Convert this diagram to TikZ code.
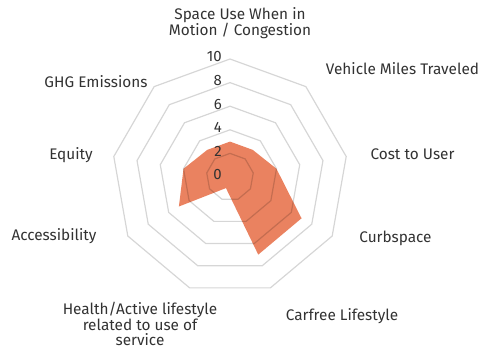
\documentclass[tikz,border=0pt]{standalone}
\usepackage{fontspec}
\setmainfont{Fira Sans}
\definecolor{fillorange}{RGB}{234,130,96}
\definecolor{ringgray}{RGB}{214,214,214}
\definecolor{labelgray}{RGB}{50,50,50}
\tikzset{
  ring/.style={draw=ringgray, line width=1.2bp},
  axislabel/.style={text=labelgray, font=\fontsize{15.4}{14.8}\selectfont, align=center, inner sep=0pt},
  ticklabel/.style={text=labelgray, font=\fontsize{15}{15}\selectfont, anchor=east, inner sep=0pt},
}
\begin{document}
\begin{tikzpicture}[x=1bp,y=1bp]
  \useasboundingbox (-230,-172) rectangle (254,177);
  % rings
  \foreach \r in {2,4,...,10}
    \draw[ring] (90:\r*11.8) \foreach \k in {1,...,8} { -- (90-40*\k:\r*11.8)} -- cycle;
  % scores
  \begin{scope}[blend mode=multiply]
    \fill[fillorange] (90:3*11.8) -- (50:3*11.8) -- (10:4*11.8) -- (-30:7*11.8)
      -- (-70:7*11.8) -- (-110:1*11.8) -- (-150:5*11.8) -- (170:4*11.8)
      -- (130:3*11.8) -- cycle;
  \end{scope}
  % scale
  \foreach \r in {0,2,...,10}
    \node[ticklabel] (t\r) at (-8, \r*11.8+2) {\r};
  % axes
  \node[axislabel] (space) at (10, 154) {Space Use When in\\Motion / Congestion};
  \node[axislabel] (vmt) at (172.5, 108) {Vehicle Miles Traveled};
  \node[axislabel] (cost) at (182.5, 23) {Cost to User};
  \node[axislabel] (curb) at (165.5, -61) {Curbspace};
  \node[axislabel] (carfree) at (112, -139) {Carfree Lifestyle};
  \node[axislabel] (health) at (-90, -147) {Health/Active lifestyle\\related to use of\\service};
  \node[axislabel] (access) at (-176, -59) {Accessibility};
  \node[axislabel] (equity) at (-159, 22) {Equity};
  \node[axislabel] (ghg) at (-134, 95) {GHG Emissions};
\end{tikzpicture}
\end{document}
